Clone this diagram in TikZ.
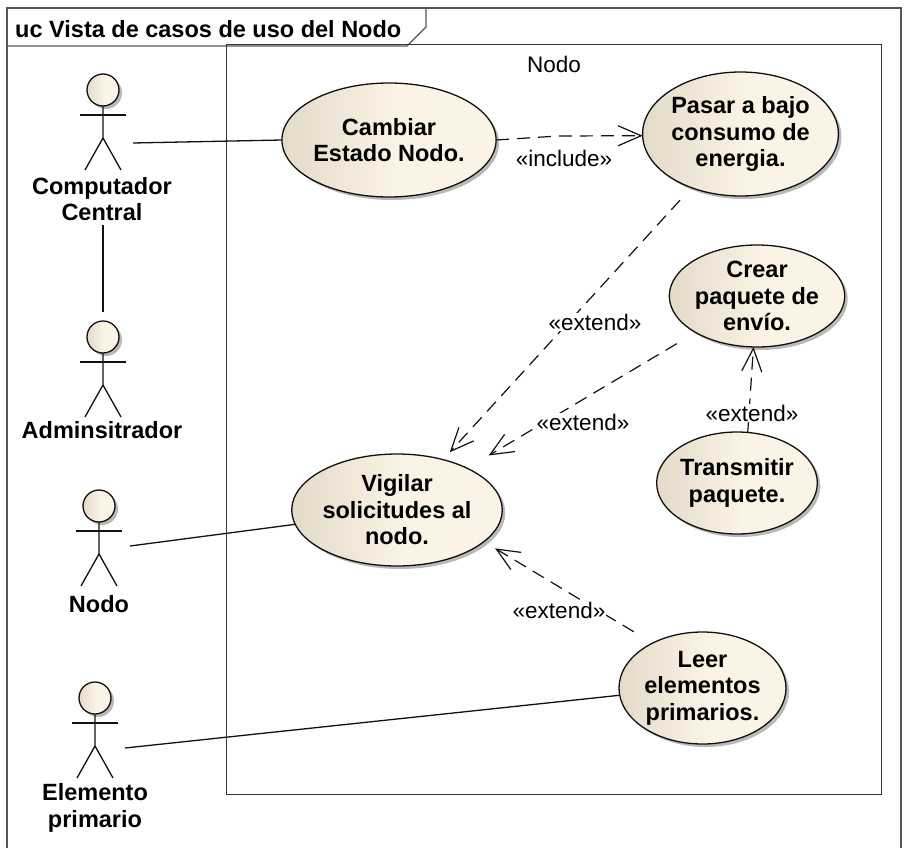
\documentclass[tikz,border=0pt]{standalone}
\usepackage{fontspec}
\setmainfont{Liberation Sans}
\usetikzlibrary{arrows.meta,shapes.geometric,shadows}
\definecolor{fillA}{HTML}{E4DACA}
\definecolor{fillB}{HTML}{FBF3E5}
\definecolor{ucshadow}{HTML}{A8A8A8}
\definecolor{frameline}{HTML}{555555}
\definecolor{ink}{HTML}{111111}
\pgfdeclarehorizontalshading{ucshade}{100bp}{color(0bp)=(fillA); color(25bp)=(fillA); color(52bp)=(fillB); color(100bp)=(fillB)}
\tikzset{
  x=1pt,y=-1pt,
  txt/.style={font=\fontsize{23.5}{26.5}\selectfont\bfseries,align=center,text=black,inner sep=0pt},
  plain/.style={font=\fontsize{22.5}{26}\selectfont,align=center,text=black,inner sep=1pt},
  usecase/.style={ellipse,draw=ink,line width=1.3pt,shading=ucshade,shading angle=0,inner sep=0pt,outer sep=0pt,
    minimum width=2*#1,
    drop shadow={shadow xshift=3pt,shadow yshift=-3pt,fill=ucshadow,opacity=.8},
    font=\fontsize{23.5}{26.5}\selectfont\bfseries,align=center},
  head/.style={circle,draw=ink,line width=1.3pt,shading=ucshade,shading angle=0,minimum size=32pt,inner sep=0pt,outer sep=0pt,
    drop shadow={shadow xshift=3pt,shadow yshift=-3pt,fill=ucshadow,opacity=.8}},
  stick/.style={draw=ink,line width=1.3pt},
  assoc/.style={draw=ink,line width=1.3pt},
  dep/.style={draw=ink,line width=1.2pt,dash pattern=on 13pt off 8pt,-{Straight Barb[length=23pt,width=20pt,line width=1.2pt]}},
  lbl/.style={plain,fill=white}
}
\newcommand{\ucactor}[3]{%
  \node[head] (#1) at (#2,#3) {};
  \draw[stick] (#1.south) -- ++(0,32) coordinate (#1hip) -- ++(-18,32);
  \draw[stick] (#1hip) -- ++(18,32);
  \draw[stick] ([shift={(-23,25)}]#1.center) -- ([shift={(23,25)}]#1.center);
}
\begin{document}
\begin{tikzpicture}
\useasboundingbox (0,0) rectangle (904,848);
\fill[white] (0,0) rectangle (904,848);
% frame
\draw[frameline,line width=1.4pt] (7,848) -- (7,8) -- (901,8) -- (901,848);
\draw[frameline,line width=1.4pt] (7,46) -- (407,46) -- (426,27) -- (426,8);
\node[txt,anchor=west] (title) at (15,29) {uc Vista de casos de uso del Nodo};
% boundary
\node[draw=ink!85,line width=1.4pt,minimum width=655pt,minimum height=750pt,inner sep=0pt,anchor=north west] (bound) at (226,44) {};
\node[plain,anchor=center] (boundname) at (554,64) {Nodo};
% use cases
\node[usecase=87pt,minimum height=114pt] (cambiar) at (389,140) {Cambiar\\Estado Nodo.};
\node[usecase=93.5pt,minimum height=124pt] (pasar) at (740.5,134) {Pasar a bajo\\consumo de\\energia.};
\node[usecase=77pt,minimum height=102pt] (crear) at (757,296) {Crear\\paquete de\\envío.};
\node[usecase=77pt,minimum height=102pt] (transmitir) at (737,483) {Transmitir\\paquete.};
\node[usecase=84pt,minimum height=112pt] (vigilar) at (397,510) {Vigilar\\solicitudes al\\nodo.};
\node[usecase=83.5pt,minimum height=112pt] (leer) at (702.5,688) {Leer\\elementos\\primarios.};
% actors
\ucactor{comp}{103}{90}
\node[txt] (complabel) at (102,199) {Computador\\Central};
\ucactor{admin}{103}{337}
\node[txt] (adminlabel) at (102,430) {Adminsitrador};
\ucactor{nodo}{99}{506}
\node[txt] (nodolabel) at (99,604) {Nodo};
\ucactor{elem}{95}{698}
\node[txt] (elemlabel) at (95,808) {Elemento\\primario};
% associations
\draw[assoc] ([shift={(30,53)}]comp.center) -- (cambiar.west);
\draw[assoc] ([yshift=-4pt]complabel.south -| comp.center) -- ([yshift=9pt]admin.north);
\draw[assoc] ([shift={(31,40)}]nodo.center) -- (vigilar.188);
\draw[assoc] ([shift={(30,50)}]elem.center) -- (leer.185);
% dependencies
\coordinate (incbend) at (558,136);
\draw[dep] (cambiar.east) -- (incbend) -- (pasar.181);
\draw[dep,shorten <=17pt,shorten >=10pt] (pasar) -- (vigilar);
\draw[dep,shorten <=22pt,shorten >=25pt] (crear) -- (vigilar);
\draw[dep] (transmitir.78) -- (crear.266);
\draw[dep,shorten <=22pt,shorten >=13pt] (leer.138) -- (vigilar.-20);
% labels
\node[lbl] (linc) at (564,158) {«include»};
\node[lbl] (l1) at (595,322) {«extend»};
\node[lbl] (l2) at (583,422) {«extend»};
\node[lbl] (l3) at (752,413) {«extend»};
\node[lbl] (l4) at (559,610) {«extend»};
\end{tikzpicture}
\end{document}
